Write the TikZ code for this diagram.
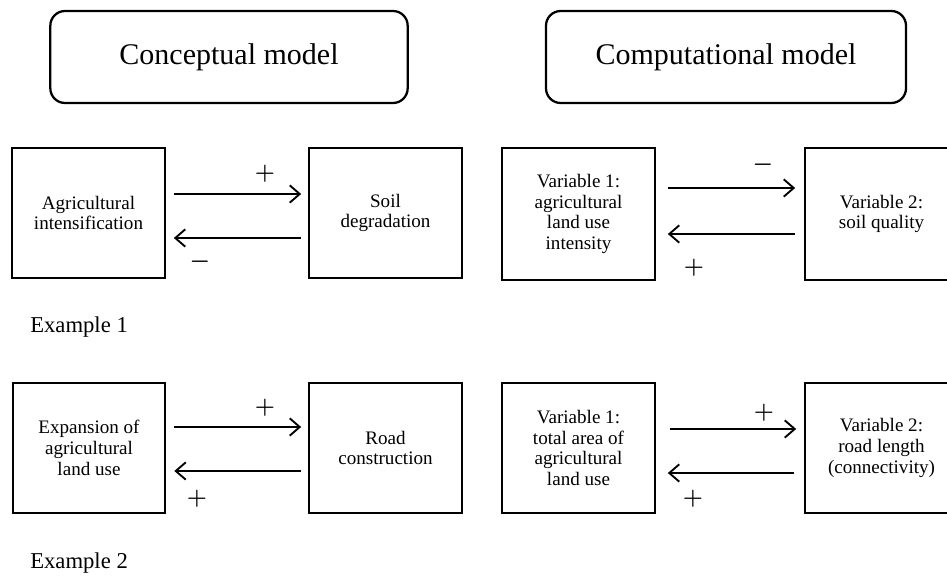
\documentclass[tikz,border=0pt]{standalone}
\usepackage{fontspec}
\setmainfont{Liberation Serif}
\usetikzlibrary{arrows.meta,calc}
\begin{document}
\begin{tikzpicture}[x=0.75pt,y=-0.75pt,
  titlebox/.style={draw,line width=1.7pt,rounded corners=11pt,minimum width=268pt,minimum height=69pt,font=\fontsize{22.5}{25}\selectfont},
  varbox/.style={draw,line width=1.5pt,minimum width=114.5pt,minimum height=97.5pt,align=center,font=\fontsize{14.3}{15.6}\selectfont},
  arr/.style={line width=1.4pt,-{Straight Barb[length=7.5pt,width=13pt,line width=1.4pt]}},
  sign/.style={inner sep=0pt,font=\fontsize{16}{18}\selectfont\boldmath},
  caption/.style={anchor=west,inner sep=0pt,font=\fontsize{17}{19}\selectfont}]
\useasboundingbox (0,0) rectangle (947,577);
\clip (0,0) rectangle (947,577);
% titles
\node[titlebox] (T1) at (229,57) {Conceptual model};
\node[titlebox,minimum width=270pt] (T2) at (726,57) {Computational model};
% row 1
\node[varbox] (A1) at (88.5,213) {Agricultural\\intensification};
\node[varbox] (B1) at (385.5,213) {Soil\\degradation};
\node[varbox,minimum height=99pt] (C1) at (578.5,214) {Variable 1:\\agricultural\\land use\\intensity};
\node[varbox,minimum height=99pt] (D1) at (881.5,214) {Variable 2:\\soil quality};
\draw[arr] ($(A1.east)+(8,-19)$) -- ($(B1.west)+(-7,-19)$);
\draw[arr] ($(B1.west)+(-7,25)$) -- ($(A1.east)+(8,25)$);
\draw[arr] ($(C1.east)+(12,-26)$) -- ($(D1.west)+(-9,-26)$);
\draw[arr] ($(D1.west)+(-9,20)$) -- ($(C1.east)+(12,20)$);
\node[sign] (s1) at (265,174) {$+$};
\node[sign] (s2) at (200,262) {$-$};
\node[sign] (s3) at (763,165) {$-$};
\node[sign] (s4) at (694,268) {$+$};
\node[caption] (E1) at (30,327) {Example 1};
% row 2
\node[varbox] (A2) at (89,448) {Expansion of\\agricultural\\land use};
\node[varbox] (B2) at (385.5,448) {Road\\construction};
\node[varbox] (C2) at (578.5,448) {Variable 1:\\total area of\\agricultural\\land use};
\node[varbox] (D2) at (881.5,448) {Variable 2:\\road length\\(connectivity)};
\draw[arr] ($(A2.east)+(8,-21)$) -- ($(B2.west)+(-7,-21)$);
\draw[arr] ($(B2.west)+(-7,23)$) -- ($(A2.east)+(8,23)$);
\draw[arr] ($(C2.east)+(14,-19)$) -- ($(D2.west)+(-8,-19)$);
\draw[arr] ($(D2.west)+(-10,25)$) -- ($(C2.east)+(12,25)$);
\node[sign] (s5) at (265,408) {$+$};
\node[sign] (s6) at (197,499) {$+$};
\node[sign] (s7) at (764,413) {$+$};
\node[sign] (s8) at (693,499) {$+$};
\node[caption] (E2) at (30,563) {Example 2};
\end{tikzpicture}
\end{document}
